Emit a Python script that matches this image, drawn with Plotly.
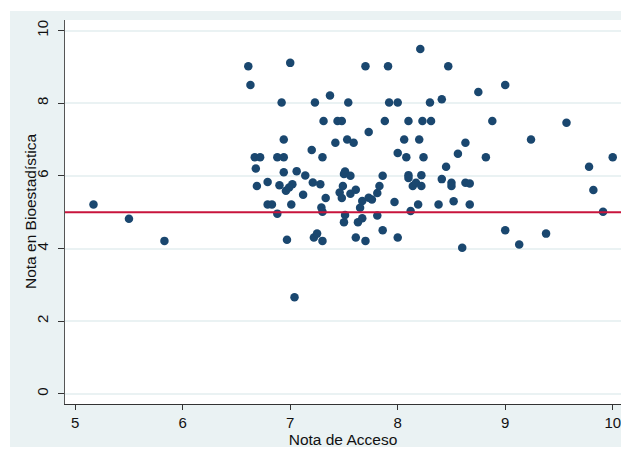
import plotly.graph_objects as go

nota_acceso = [
    5.17, 5.50, 5.83, 6.61, 6.63, 6.67, 6.72, 6.68, 6.69, 6.79,
    6.79, 6.83, 6.88, 6.94, 6.88, 6.90, 6.92, 6.94, 6.94, 6.96,
    6.97, 7.00, 7.02, 6.99, 7.01, 7.04, 7.06, 7.12, 7.14, 7.20,
    7.21, 7.22, 7.23, 7.25, 7.28, 7.29, 7.30, 7.30, 7.30, 7.31,
    7.33, 7.37, 7.42, 7.44, 7.48, 7.46, 7.48, 7.49, 7.50, 7.51,
    7.50, 7.51, 7.53, 7.54, 7.56, 7.56, 7.59, 7.61, 7.61, 7.63,
    7.65, 7.67, 7.67, 7.70, 7.70, 7.73, 7.73, 7.76, 7.81, 7.81,
    7.83, 7.86, 7.86, 7.88, 7.91, 7.92, 7.97, 8.00, 8.00, 8.00,
    8.06, 8.08, 8.10, 8.10, 8.10, 8.12, 8.14, 8.17, 8.19, 8.20,
    8.21, 8.22, 8.22, 8.23, 8.24, 8.30, 8.31, 8.38, 8.41, 8.41,
    8.45, 8.47, 8.50, 8.50, 8.52, 8.56, 8.60, 8.63, 8.63, 8.67,
    8.67, 8.75, 8.82, 8.88, 9.00, 9.00, 9.13, 9.24, 9.38, 9.57,
    9.78, 9.82, 9.91, 10.00,
]
nota_bioestadistica = [
    5.21, 4.82, 4.21, 9.02, 8.50, 6.51, 6.51, 6.20, 5.72, 5.83,
    5.21, 5.21, 6.51, 6.51, 4.96, 5.74, 8.02, 7.00, 6.10, 5.59,
    4.24, 9.11, 5.77, 5.68, 5.21, 2.66, 6.13, 5.48, 6.01, 6.71,
    5.82, 4.30, 8.02, 4.41, 5.77, 5.13, 5.01, 6.51, 4.21, 7.51,
    5.39, 8.21, 6.91, 7.51, 7.51, 5.54, 5.39, 5.72, 6.05, 6.12,
    4.72, 4.92, 7.00, 8.02, 6.00, 5.51, 6.91, 5.62, 4.30, 4.72,
    5.12, 4.83, 5.31, 9.02, 4.21, 7.21, 5.40, 5.35, 5.53, 4.91,
    5.72, 6.00, 4.50, 7.51, 9.02, 8.02, 5.28, 8.02, 6.63, 4.30,
    7.00, 6.51, 7.51, 6.02, 5.94, 5.03, 5.72, 5.81, 5.21, 7.00,
    9.49, 6.02, 5.72, 7.51, 6.51, 8.02, 7.51, 5.21, 8.11, 5.91,
    6.25, 9.02, 5.81, 5.72, 5.30, 6.61, 4.02, 6.91, 5.81, 5.79,
    5.21, 8.31, 6.51, 7.51, 8.50, 4.50, 4.11, 7.00, 4.41, 7.46,
    6.25, 5.61, 5.01, 6.51,
]
aprobado = 5
y_ticks = [0, 2, 4, 6, 8, 10]
x_ticks = [5, 6, 7, 8, 9, 10]

W, H = 621, 450
L, R, T, B = 65, 0, 20, 46
pw, ph = W - L - R, H - T - B

def xp(px):
    return (px - L) / pw

def yp(py):
    return (H - B - py) / ph

fig = go.Figure()
fig.add_trace(go.Scatter(
    x=nota_acceso, y=nota_bioestadistica, mode="markers",
    marker=dict(color="#1A476F", size=8.5, line=dict(width=0)),
    showlegend=False, hoverinfo="x+y", cliponaxis=False,
))

fig.add_hline(y=aprobado, line=dict(color="#C8143C", width=2))

font = "Liberation Sans, Arial, sans-serif"
white_strips = [
    (xp(0), xp(10), yp(450), yp(0)),
    (xp(0), xp(W), yp(11), yp(0)),
    (xp(0), xp(W), yp(450), yp(447)),
]
for x0, x1, y0, y1 in white_strips:
    fig.add_shape(type="rect", xref="paper", yref="paper",
                  x0=x0, x1=x1, y0=y0, y1=y1,
                  fillcolor="white", line=dict(width=0), layer="above")

fig.add_annotation(
    text="Nota en Bioestadística", xref="paper", yref="paper",
    x=xp(30), y=yp(212), xanchor="center", yanchor="middle",
    textangle=-90, showarrow=False, font=dict(size=15.5, color="#111"),
)

fig.update_layout(
    width=W, height=H,
    margin=dict(l=L, r=R, t=T, b=B, pad=0, autoexpand=False),
    paper_bgcolor="#EAF2F3",
    plot_bgcolor="white",
    font=dict(family=font, size=15, color="#111"),
    xaxis=dict(
        range=[4.905, 10.077], tickvals=x_ticks, ticks="outside", ticklen=5,
        tickcolor="#333", showline=True, linecolor="#333", linewidth=1,
        showgrid=False, zeroline=False, automargin=False,
        ticklabeloverflow="allow",
        title=dict(text="Nota de Acceso", font=dict(size=15.5), standoff=0),
        tickfont=dict(size=15),
    ),
    yaxis=dict(
        range=[-0.28, 10.29], tickvals=y_ticks, ticks="outside", ticklen=6,
        tickcolor="#333", showline=True, linecolor="#555", linewidth=1,
        showgrid=True, gridcolor="#EAF2F3", gridwidth=1.5, zeroline=False,
        tickangle=-90, automargin=False, ticklabelstandoff=4,
        tickfont=dict(size=15),
    ),
)

fig.write_html(
    "out.html",
    config={"displayModeBar": False},
    post_script="document.body.style.margin='0';document.body.style.overflow='hidden';",
)
